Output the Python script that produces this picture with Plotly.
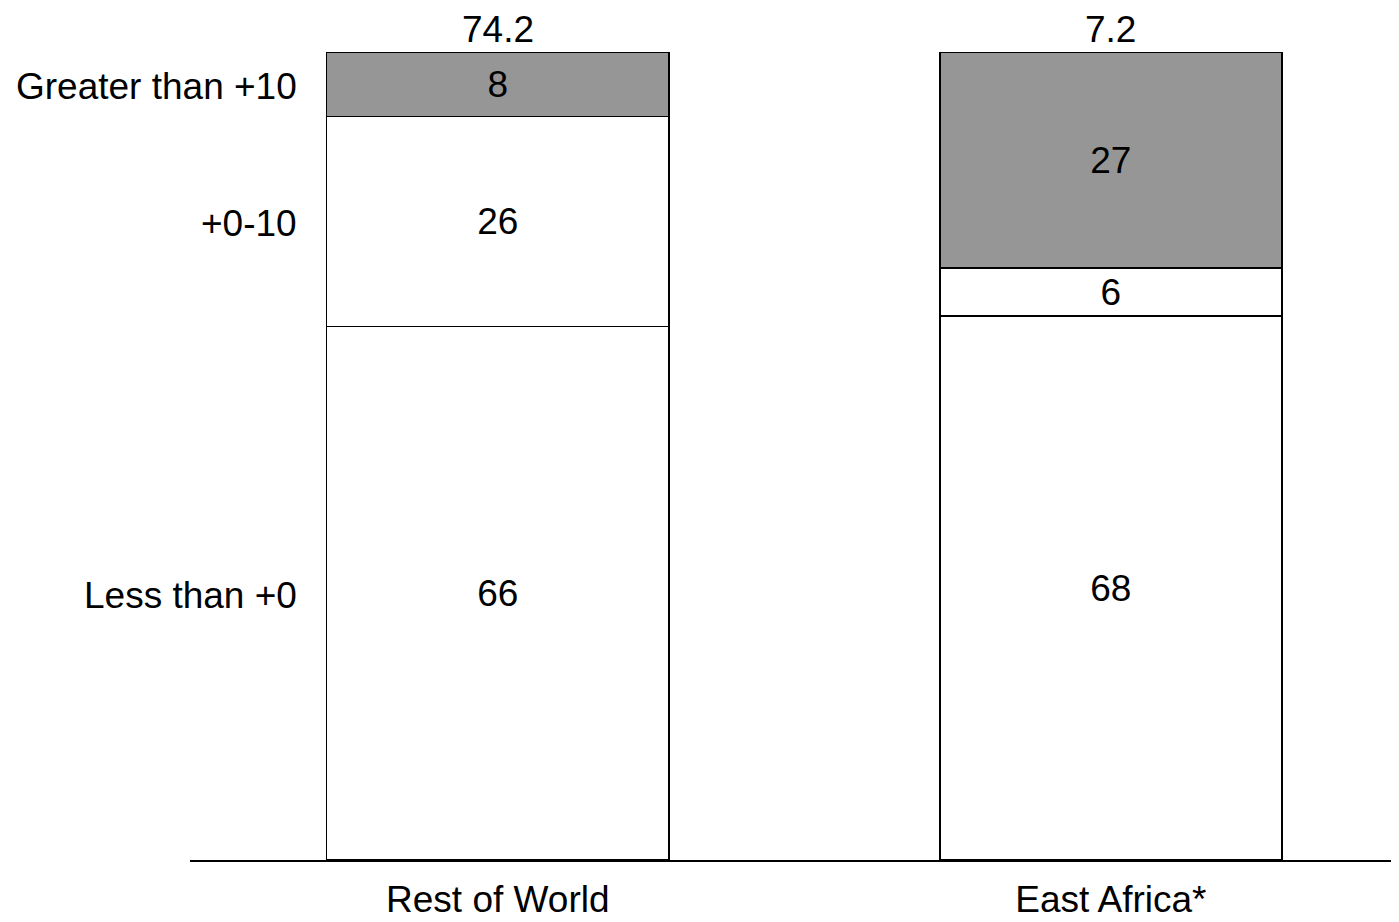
import plotly.graph_objects as go

categories = ["Rest of World", "East Africa*"]
series_names = ["Less than +0", "+0-10", "Greater than +10"]
less_than_0 = [66, 68]
zero_to_10 = [26, 6]
greater_than_10 = [8, 27]
totals = ["74.2", "7.2"]

series_values = [less_than_0, zero_to_10, greater_than_10]
fills = ["#ffffff", "#ffffff", "#969696"]

FONT = "Liberation Sans, Arial, sans-serif"
FS = 37

fig = go.Figure()
for name, vals, col in zip(series_names, series_values, fills):
    fig.add_trace(go.Bar(
        x=categories, y=vals, name=name,
        marker=dict(color=col, line=dict(color="#000000", width=1.5)),
        text=[str(v) for v in vals], textposition="inside",
        insidetextanchor="middle",
        textfont=dict(family=FONT, size=FS, color="#000000"),
        width=0.558, showlegend=False, hoverinfo="skip",
    ))

# totals above bars
for c, t in zip(categories, totals):
    fig.add_annotation(x=c, y=100, text=t, showarrow=False, yanchor="bottom",
                       yshift=1, borderpad=0,
                       font=dict(family=FONT, size=FS, color="#000000"))

# series labels left of first bar, at segment centres (percent of first bar)
first_total = sum(v[0] for v in series_values)
cum = 0
for name, vals in zip(series_names, series_values):
    v = vals[0] / first_total * 100
    mid = cum + v / 2
    cum += v
    fig.add_annotation(x=-0.279, y=mid, xref="x", yref="y", text=name,
                       showarrow=False, xanchor="right", xshift=-28, yshift=-2,
                       font=dict(family=FONT, size=FS, color="#000000"))

fig.update_layout(
    width=1391, height=906,
    margin=dict(l=182, r=0, t=44, b=54, autoexpand=False),
    barmode="stack", barnorm="percent",
    plot_bgcolor="#ffffff", paper_bgcolor="#ffffff",
    uniformtext=dict(minsize=FS, mode="show"),
    font=dict(family=FONT, size=FS, color="#000000"),
    xaxis=dict(range=[-0.502, 1.470], showline=True, linecolor="#000000",
               linewidth=2, ticks="", showgrid=False, zeroline=False,
               automargin=False, ticklabelstandoff=6,
               tickfont=dict(family=FONT, size=FS, color="#000000")),
    yaxis=dict(range=[0, 100], visible=False, showgrid=False, zeroline=False,
               automargin=False),
)

fig.write_html("out.html")
